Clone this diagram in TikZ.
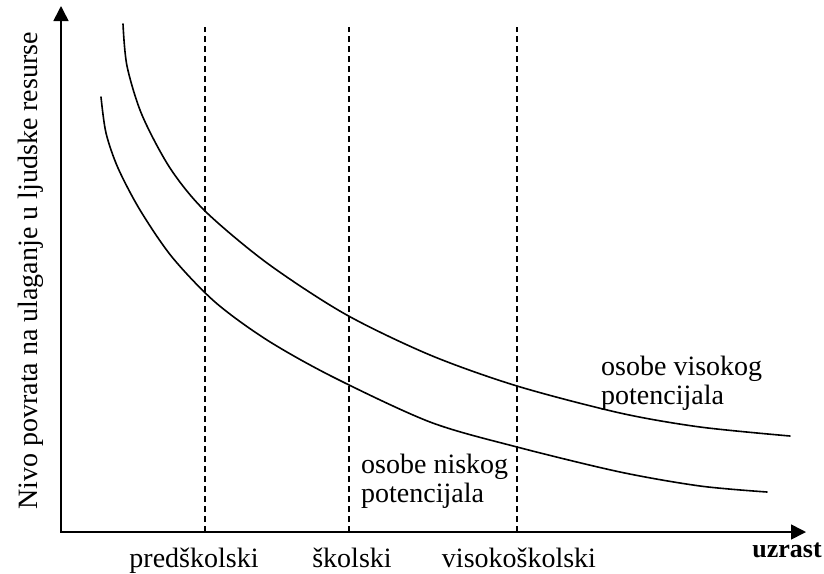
\documentclass[tikz,border=0pt]{standalone}
\usepackage{fontspec}
\setmainfont{Liberation Serif}
\usetikzlibrary{arrows.meta}

\begin{document}
\begin{tikzpicture}[x=1pt,y=-1pt,font=\fontsize{28}{29}\selectfont,
  axis/.style={line width=1.6pt,{Triangle[length=15pt,width=15pt]}-{Triangle[length=15pt,width=15pt]}},
  stage/.style={line width=1.4pt,dash pattern=on 6pt off 4pt},
  curve/.style={line width=1.6pt,line cap=round},
  lbl/.style={inner sep=0pt,anchor=base}]
\useasboundingbox (0,0) rectangle (824,573);
% ---- axes ----
\coordinate (o) at (61,532);
\coordinate (ytip) at (61,6);
\coordinate (xtip) at (806,532);
\draw[axis] (ytip) -- (o) -- (xtip);
\node[lbl,rotate=90] (ylab) at (37,271) {Nivo povrata na ulaganje u ljudske resurse};
\node[lbl,font=\fontsize{26}{29}\selectfont\bfseries] (age) at (787,557) {uzrast};
% ---- stages of schooling ----
\foreach \x/\n in {205/pre,349/sko,517/vis}{
  \coordinate (\n-b) at (\x,532);
  \coordinate (\n-t) at (\x,27);
  \draw[stage] (\n-b) -- (\n-t);
}
\node[lbl] (pre) at (194,567) {predškolski};
\node[lbl] (sko) at (352,567) {školski};
\node[lbl] (vis) at (519,567) {visokoškolski};
% ---- return curves ----
\draw[curve] plot[smooth] coordinates {(123,24) (127,66) (142,115) (170,168) (205,211)
  (267,263) (345,314) (430,355) (517,386) (620,413) (700,427) (790,436)};
\draw[curve] plot[smooth] coordinates {(101,97) (106,133) (118,168) (140,210) (172,257)
  (215,302) (267,340) (333,377) (430,422) (517,447) (620,472) (700,486) (767,492)};
% (base of a two-line label sits on its last line)
\node[lbl,anchor=base west,align=left] (hi) at (601,404) {osobe visokog\\potencijala};
\node[lbl,anchor=base west,align=left] (lo) at (361,502) {osobe niskog\\potencijala};
\end{tikzpicture}
\end{document}
